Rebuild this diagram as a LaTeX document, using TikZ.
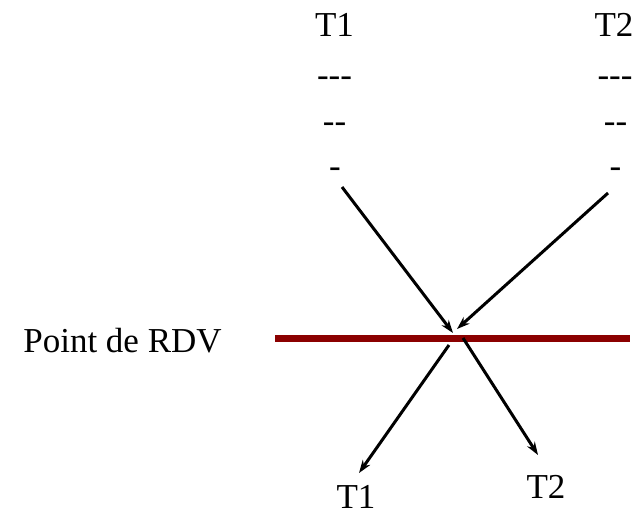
\documentclass[tikz,border=0pt]{standalone}
\usepackage{fontspec}
\setmainfont{LiberationSerif}[Extension=.ttf, UprightFont=*-Regular, BoldFont=*-Bold]
\usetikzlibrary{arrows.meta}
\definecolor{rdvred}{RGB}{139,0,0}

\begin{document}
\begin{tikzpicture}[x=1pt,y=-1pt,
  lbl/.style={inner sep=0pt, font=\rmfamily\fontsize{35}{40}\selectfont},
  dashes/.style={inner sep=0pt, anchor=base, font=\rmfamily\fontsize{35}{40}\selectfont},
  arr/.style={-{Stealth[length=13pt,width=9pt]}, line width=3pt}]
  \useasboundingbox (0,0) rectangle (636,515);
  % Trains before the meeting point
  \node[lbl] (t1top) at (334.5,24.5) {T1};
  \node[lbl] (t2top) at (614,24.5) {T2};
  \node[dashes] (t1d3) at (334.5,86) {-{}-{}-};
  \node[dashes] (t1d2) at (334.5,132) {-{}-};
  \node[dashes] (t1d1) at (335,177) {-};
  \node[dashes] (t2d3) at (615,86) {-{}-{}-};
  \node[dashes] (t2d2) at (615.5,132) {-{}-};
  \node[dashes] (t2d1) at (615.5,177) {-};
  % Meeting line
  \node[lbl] (rdvlbl) at (122.5,341) {Point de RDV};
  \coordinate (rdvl) at (275,338);
  \coordinate (rdvr) at (630,338);
  \draw[rdvred, line width=7pt] (rdvl) -- (rdvr);
  % Arrows in
  \coordinate (in1) at (342,187);
  \coordinate (in2) at (608,193);
  \coordinate (meet1) at (453,333);
  \coordinate (meet2) at (457,329);
  \draw[arr] (in1) -- (meet1);
  \draw[arr] (in2) -- (meet2);
  % Arrows out
  \coordinate (out1) at (449,345);
  \coordinate (out2) at (463,338);
  \node[lbl] (t1bot) at (356,497) {T1};
  \node[lbl] (t2bot) at (546,487) {T2};
  \coordinate (end1) at (359,473);
  \coordinate (end2) at (538,455);
  \draw[arr] (out1) -- (end1);
  \draw[arr] (out2) -- (end2);
\end{tikzpicture}
\end{document}
